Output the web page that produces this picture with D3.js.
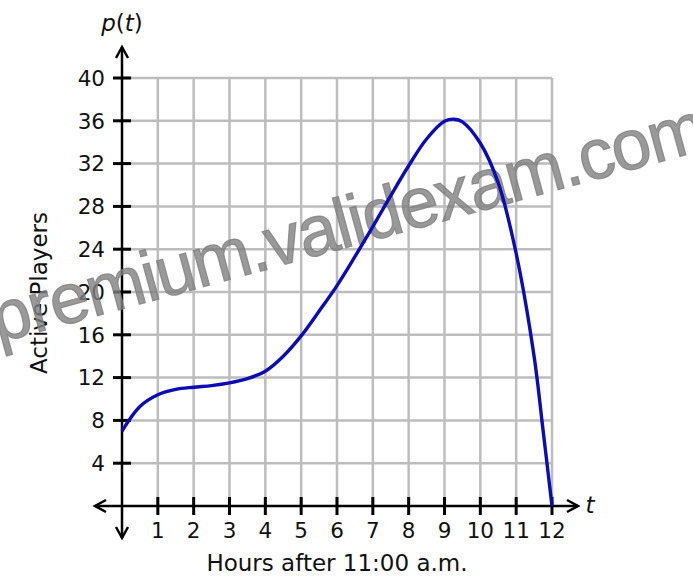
<!DOCTYPE html>
<html><head><meta charset="utf-8">
<script src="https://cdn.jsdelivr.net/npm/d3@7"></script>
<style>body{margin:0;background:#fff}svg{display:block}text{font-family:"DejaVu Sans",sans-serif}text.wm{font-family:"Liberation Sans",Arial,sans-serif}</style>
</head><body>
<svg id="c" width="693" height="587"></svg>
<script>
const hours = [0,0.5,1,1.5,2,2.5,3,3.5,4,4.5,5,5.5,6,6.5,7,7.5,8,8.5,9,9.27,9.5,10,10.5,11,11.5,11.75,12];
const players = [7.0,9.3,10.4,10.9,11.1,11.25,11.5,11.9,12.6,14.0,15.9,18.2,20.6,23.3,26.1,29.0,31.8,34.3,35.95,36.15,35.9,33.9,30.2,23.6,14.0,7.1,0];
const xTicks = [1,2,3,4,5,6,7,8,9,10,11,12];
const yTicks = [4,8,12,16,20,24,28,32,36,40];
const xTitle = "Hours after 11:00 a.m.";
const yTitle = "Active Players";
const watermark = "premium.validexam.com";

const svg = d3.select("#c");
const x = d3.scaleLinear().domain([0,12]).range([122,552]);
const y = d3.scaleLinear().domain([0,40]).range([506,78]);

// grid
svg.append("g").selectAll("line").data(xTicks).join("line")
  .attr("x1",d=>x(d)).attr("x2",d=>x(d)).attr("y1",y(0)).attr("y2",y(40))
  .attr("stroke","#bdbdbd").attr("stroke-width",2.5);
svg.append("g").selectAll("line").data(yTicks).join("line")
  .attr("x1",x(0)).attr("x2",x(12)).attr("y1",d=>y(d)).attr("y2",d=>y(d))
  .attr("stroke","#bdbdbd").attr("stroke-width",2.5);

// axes
const ax = svg.append("g").attr("stroke","#000").attr("stroke-width",2.5).attr("fill","none");
ax.append("line").attr("x1",95).attr("x2",578).attr("y1",y(0)).attr("y2",y(0));
ax.append("line").attr("x1",x(0)).attr("x2",x(0)).attr("y1",47).attr("y2",538);
ax.append("path").attr("d",`M${95+11},${y(0)-6}L95,${y(0)}L${95+11},${y(0)+6}`);
ax.append("path").attr("d",`M${578-11},${y(0)-6}L578,${y(0)}L${578-11},${y(0)+6}`);
ax.append("path").attr("d",`M${x(0)-6},${47+11}L${x(0)},47L${x(0)+6},${47+11}`);
ax.append("path").attr("d",`M${x(0)-6},${538-11}L${x(0)},538L${x(0)+6},${538-11}`);
ax.selectAll(".xt").data(xTicks).join("line").attr("class","xt")
  .attr("x1",d=>x(d)).attr("x2",d=>x(d)).attr("y1",y(0)-9).attr("y2",y(0)+9).attr("stroke-width",3);
ax.selectAll(".yt").data(yTicks).join("line").attr("class","yt")
  .attr("x1",x(0)-9).attr("x2",x(0)+9).attr("y1",d=>y(d)).attr("y2",d=>y(d)).attr("stroke-width",3);

// tick labels
svg.append("g").selectAll("text").data(xTicks).join("text")
  .attr("x",d=>x(d)).attr("y",538).attr("text-anchor","middle")
  .attr("font-size",21.5).attr("fill","#111").text(d=>d);
svg.append("g").selectAll("text").data(yTicks).join("text")
  .attr("x",105).attr("y",d=>y(d)).attr("dy","0.36em").attr("text-anchor","end")
  .attr("font-size",21.5).attr("fill","#111").text(d=>d);

// titles
svg.append("text").attr("x",337).attr("y",571).attr("text-anchor","middle")
  .attr("font-size",23).attr("fill","#111").text(xTitle);
svg.append("text").attr("transform","translate(47,293) rotate(-90)").attr("text-anchor","middle")
  .attr("font-size",23).attr("fill","#111").text(yTitle);
const pt = svg.append("text").attr("x",122).attr("y",31).attr("text-anchor","middle")
  .attr("font-size",23).attr("fill","#111");
pt.append("tspan").attr("font-style","italic").text("p");
pt.append("tspan").text("(");
pt.append("tspan").attr("font-style","italic").text("t");
pt.append("tspan").text(")");
svg.append("text").attr("x",590).attr("y",513).attr("text-anchor","middle")
  .attr("font-size",23).attr("font-style","italic").attr("fill","#111").text("t");

// watermark
svg.append("text").attr("class","wm").attr("transform","translate(-2,343) rotate(-15.3)")
  .attr("font-size",71).attr("letter-spacing",-1.5)
  .attr("fill","#808080").attr("fill-opacity",0.8)
  .attr("stroke","#808080").attr("stroke-opacity",0.8).attr("stroke-width",1.2)
  .text(watermark);

// curve
const line = d3.line().x((d,i)=>x(hours[i])).y(d=>y(d)).curve(d3.curveCatmullRom.alpha(0.5));
svg.append("path").datum(players).attr("d",line)
  .attr("fill","none").attr("stroke","#0c0cb4").attr("stroke-width",3.4);
</script>
</body></html>
